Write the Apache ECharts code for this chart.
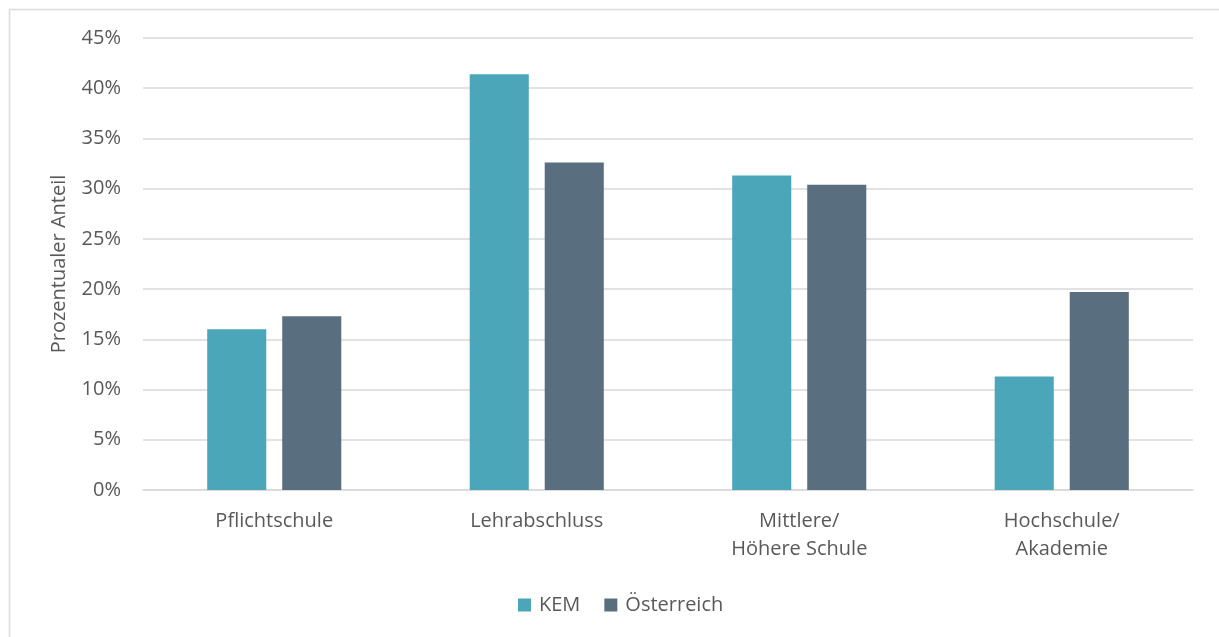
<!DOCTYPE html>
<html>
<head>
<meta charset="utf-8">
<script src="https://cdn.jsdelivr.net/npm/echarts@6/dist/echarts.min.js"></script>
<style>
  html, body { margin: 0; padding: 0; background: #ffffff; }
  #chart { width: 1219px; height: 637px; }
</style>
</head>
<body>
<div id="chart"></div>
<script>
// Bildungsabschluss: KEM-Region im Vergleich zu Österreich (Anteile in %)
const categories = ['Pflichtschule', 'Lehrabschluss', 'Mittlere/\nHöhere Schule', 'Hochschule/\nAkademie'];
const kemValues = [16.0, 41.4, 31.3, 11.3];
const oesterreichValues = [17.3, 32.6, 30.4, 19.7];
const seriesNames = ['KEM', 'Österreich'];
const yTicks = { min: 0, max: 45, interval: 5 };

const textColor = '#595959';
const gridColor = '#d9d9d9';
const font = '"Open Sans", "Noto Sans", sans-serif';

const chart = echarts.init(document.getElementById('chart'), null, { renderer: 'canvas' });

chart.setOption({
  backgroundColor: '#ffffff',
  animation: false,
  graphic: [{
    type: 'rect',
    shape: { x: 9.5, y: 9.5, width: 1240, height: 660 },
    style: { fill: 'none', stroke: '#dcdcdc', lineWidth: 1.5 },
    silent: true,
    z: -10
  }],
  grid: { left: 143, right: 26, top: 38, bottom: 147, containLabel: false },
  legend: {
    data: seriesNames,
    bottom: 17,
    left: 513,
    itemWidth: 13,
    itemHeight: 13,
    itemGap: 24,
    icon: 'rect',
    textStyle: { color: textColor, fontSize: 20, fontFamily: font, padding: [0, 0, 0, 3] }
  },
  xAxis: {
    type: 'category',
    data: categories,
    axisLine: { show: true, lineStyle: { color: gridColor, width: 1.5 } },
    axisTick: { show: false },
    axisLabel: { color: textColor, fontSize: 20, fontFamily: font, lineHeight: 28, margin: 17 }
  },
  yAxis: {
    type: 'value',
    min: yTicks.min,
    max: yTicks.max,
    interval: yTicks.interval,
    name: 'Prozentualer Anteil',
    nameLocation: 'middle',
    nameGap: 74,
    nameTextStyle: { color: textColor, fontSize: 20, fontFamily: font },
    axisLine: { show: false },
    axisTick: { show: false },
    splitLine: { lineStyle: { color: gridColor, width: 1.5 } },
    axisLabel: { color: textColor, fontSize: 20, fontFamily: font, margin: 22, formatter: v => v + '%' }
  },
  series: [
    {
      name: seriesNames[0],
      type: 'bar',
      data: kemValues,
      barWidth: '22.5%',
      barGap: '27%',
      itemStyle: { color: '#4aa6b8' }
    },
    {
      name: seriesNames[1],
      type: 'bar',
      data: oesterreichValues,
      barWidth: '22.5%',
      itemStyle: { color: '#596e7f' }
    }
  ]
});
</script>
</body>
</html>
